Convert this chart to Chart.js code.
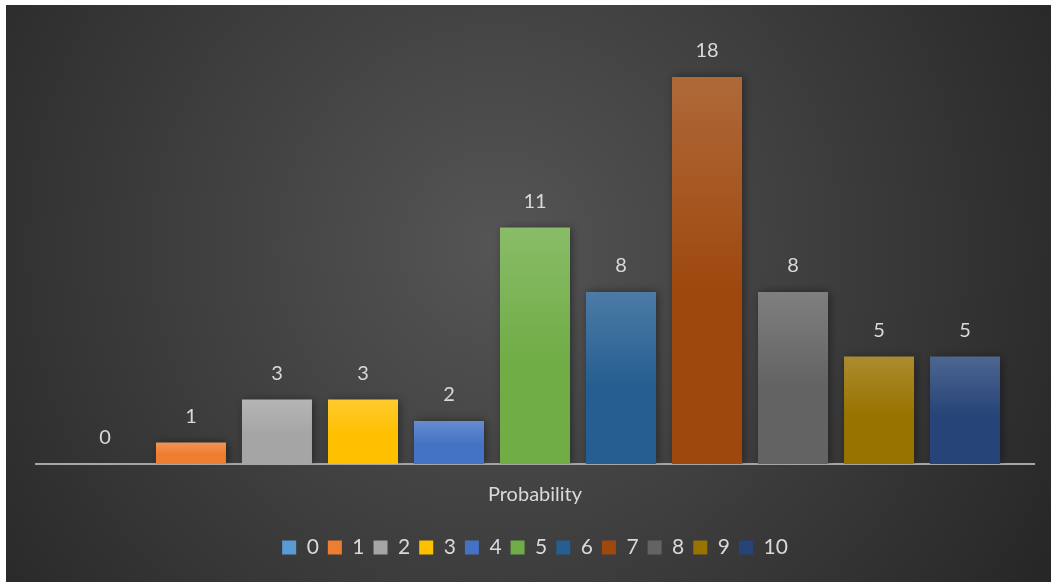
<!DOCTYPE html>
<html>
<head>
<meta charset="utf-8">
<script src="https://cdn.jsdelivr.net/npm/chart.js@4.4.0/dist/chart.umd.min.js"></script>
<style>
  html, body { margin: 0; padding: 0; background: #ffffff; }
  #box { position: absolute; left: 6px; top: 5px; width: 1045px; height: 577px; }
</style>
</head>
<body>
<div id="box"><canvas id="grafico"></canvas></div>
<script>
// Dados do gráfico
const categorias = ['Probability'];
const series = ['0', '1', '2', '3', '4', '5', '6', '7', '8', '9', '10'];
const valores = [0, 1, 3, 3, 2, 11, 8, 18, 8, 5, 5];
const cores = ['#5b9bd5', '#ed7d31', '#a5a5a5', '#ffc000', '#4472c4', '#70ad47',
               '#255e91', '#9e480e', '#636363', '#997300', '#264478'];

// Clareia uma cor misturando com branco
function clarear(hex, t) {
    const n = parseInt(hex.slice(1), 16);
    const r = (n >> 16) & 255, g = (n >> 8) & 255, b = n & 255;
    const m = c => Math.round(c + (255 - c) * t);
    return 'rgb(' + m(r) + ',' + m(g) + ',' + m(b) + ')';
}

// Gradiente vertical de cada barra
function corBarra(cor) {
    return function (context) {
        const chart = context.chart;
        const y = chart.scales.y;
        if (!y || context.raw === undefined) return cor;
        const topo = y.getPixelForValue(context.raw);
        const base = y.getPixelForValue(0);
        if (base - topo < 1) return cor;
        const g = chart.ctx.createLinearGradient(0, topo, 0, base);
        g.addColorStop(0, clarear(cor, 0.18));
        g.addColorStop(0.55, cor);
        g.addColorStop(1, cor);
        return g;
    };
}

// Fundo radial escuro
const fundo = {
    id: 'fundo',
    beforeDraw(chart) {
        const { ctx, width, height } = chart;
        const g = ctx.createRadialGradient(width * 0.47, height * 0.42, 0,
                                           width * 0.47, height * 0.42, width * 0.62);
        g.addColorStop(0, '#555555');
        g.addColorStop(1, '#262626');
        ctx.save();
        ctx.fillStyle = g;
        ctx.fillRect(0, 0, width, height);
        ctx.restore();
    }
};

// Sombra das barras
const sombra = {
    id: 'sombra',
    beforeDatasetsDraw(chart) {
        const ctx = chart.ctx;
        ctx.save();
        ctx.shadowColor = 'rgba(0,0,0,0.45)';
        ctx.shadowBlur = 9;
        ctx.shadowOffsetX = 2;
        ctx.shadowOffsetY = 0;
    },
    afterDatasetsDraw(chart) {
        chart.ctx.restore();
    }
};

// Rótulos com os valores acima das barras
const rotulos = {
    id: 'rotulos',
    afterDatasetsDraw(chart) {
        const ctx = chart.ctx;
        ctx.save();
        ctx.font = '20px Lato, "Open Sans", sans-serif';
        ctx.fillStyle = '#d9d9d9';
        ctx.textAlign = 'center';
        ctx.textBaseline = 'middle';
        chart.data.datasets.forEach((ds, i) => {
            chart.getDatasetMeta(i).data.forEach((barra, j) => {
                ctx.fillText(String(ds.data[j]), barra.x, barra.y - 26);
            });
        });
        ctx.restore();
    }
};

let grafico = null;

function criarGrafico() {
    const ctx = document.getElementById('grafico').getContext('2d');
    grafico = new Chart(ctx, {
        type: 'bar',
        data: {
            labels: categorias,
            datasets: series.map((nome, i) => ({
                label: nome,
                data: [valores[i]],
                backgroundColor: corBarra(cores[i]),
                borderWidth: 0
            }))
        },
        options: {
            responsive: true,
            maintainAspectRatio: false,
            animation: false,
            categoryPercentage: 0.948,
            barPercentage: 0.814,
            layout: {
                padding: { top: 29, left: 30, right: 17, bottom: 14 }
            },
            scales: {
                x: {
                    grid: { display: false },
                    border: { color: '#a6a6a6', width: 2 },
                    ticks: {
                        color: '#d9d9d9',
                        font: { family: 'Lato, "Open Sans", sans-serif', size: 20 },
                        padding: 11
                    },
                    afterFit(scale) {
                        scale.height += 10;
                    }
                },
                y: {
                    display: false,
                    min: 0,
                    max: 20
                }
            },
            plugins: {
                legend: {
                    display: true,
                    position: 'bottom',
                    labels: {
                        color: '#d9d9d9',
                        font: { family: 'Lato, "Open Sans", sans-serif', size: 21 },
                        boxWidth: 14,
                        boxHeight: 14,
                        padding: 9,
                        generateLabels(chart) {
                            return chart.data.datasets.map((ds, i) => ({
                                text: ds.label,
                                fillStyle: cores[i],
                                strokeStyle: cores[i],
                                lineWidth: 0,
                                fontColor: '#d9d9d9',
                                datasetIndex: i,
                                hidden: false
                            }));
                        }
                    }
                },
                tooltip: { enabled: false }
            }
        },
        plugins: [fundo, sombra, rotulos]
    });
}

criarGrafico();
</script>
</body>
</html>
